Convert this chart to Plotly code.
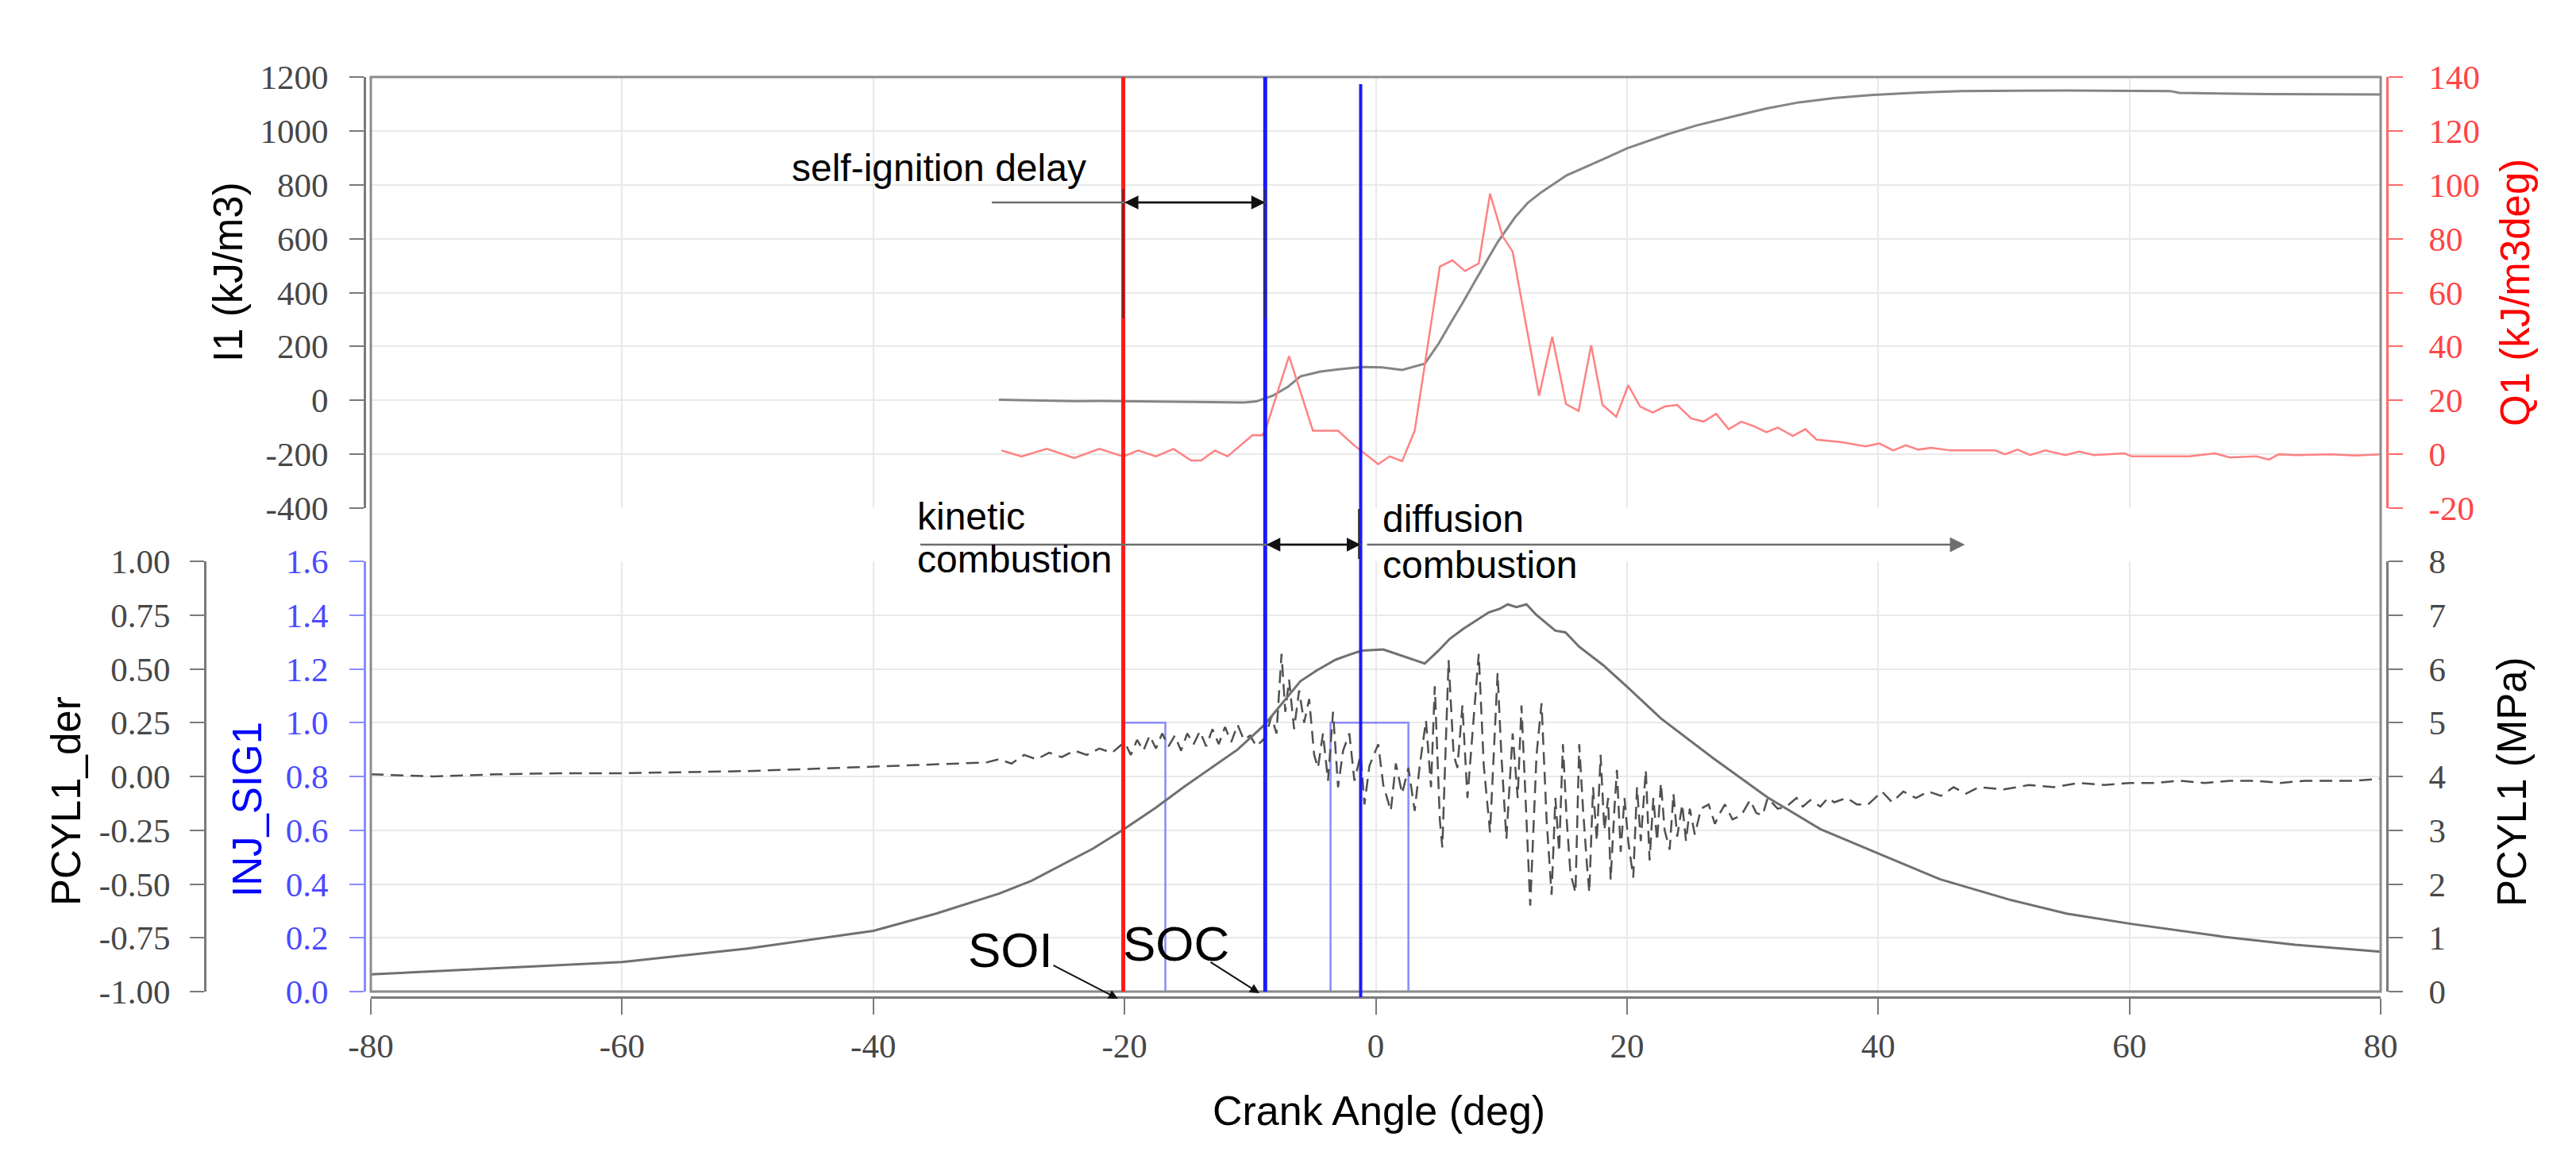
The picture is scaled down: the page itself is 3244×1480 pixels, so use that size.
import plotly.graph_objects as go

# ---------------- data ----------------
i1_deg = [-30, -28, -26, -24, -22, -20, -18, -16, -14, -12, -10.5, -9.5, -8.2, -7, -6, -5, -4.4, -3,
          -1.1, 0.5, 2.1, 3.9, 5, 6, 6.9, 8, 9, 9.7, 11.1, 12.1, 13.2, 15.2, 18.2, 20, 23.2, 25.5,
          28.5, 31, 33.7, 36.5, 39.4, 43, 46.6, 55, 63.2, 64, 70.9, 75, 80]
i1_val = [2, 0, -2, -3, -2, -3, -4, -5, -6, -9, -8, -4, 17, 50, 89, 100, 107, 115,
          124, 122, 113, 136, 210, 290, 360, 450, 530, 587, 680, 733, 773, 835, 897, 935, 987, 1020,
          1054, 1082, 1106, 1122, 1133, 1142, 1148, 1150, 1148, 1141, 1137, 1137, 1135]

q1_deg = [-29.8, -28.2, -26.2, -24.0, -22.0, -20.1, -18.9, -17.5, -16.1, -14.7, -13.9, -12.8, -11.8,
          -9.8, -9.05, -8.8, -6.9, -5.0, -3.0, -1.8, 0.2, 1.1, 2.1, 3.1, 5.1, 6.1, 7.1, 8.2, 9.1, 10.1,
          10.9, 13.0, 14.05, 15.15, 16.15, 17.15, 18.05, 19.15, 20.1, 21.05, 22.05, 23.0, 24.0, 25.1,
          26.1, 27.1, 28.1, 29.1, 30.1, 31.1, 32.0, 33.2, 34.2, 35.1, 37.0, 39.0, 40.1, 41.2, 42.2,
          43.2, 44.2, 45.8, 49.3, 50.1, 51.1, 52.1, 53.3, 54.9, 56.0, 57.2, 59.6, 60.2, 64.8, 66.8,
          68.0, 70.1, 71.1, 71.9, 73.3, 76, 78, 80]
q1_val = [1.4, -0.8, 2, -1.4, 2, -0.8, 1.4, -0.8, 2, -2.3, -2.3, 1.4, -0.8,
          7.1, 7, 8.7, 36.4, 8.7, 8.7, 3.6, -3.7, -0.8, -2.6, 8.7, 69.6, 72, 68, 70.8, 96.7, 80.9,
          75.2, 21.7, 43.6, 18.6, 16.1, 40.4, 18.3, 13.9, 25.6, 17.7, 15.5, 17.7, 18.3, 13.3,
          12.1, 15, 9.3, 12.1, 10.4, 8.2, 9.9, 6.8, 9.3, 5.4, 4.5, 2.9, 4.0, 1.4, 3.3,
          1.7, 2.4, 1.4, 1.4, 0, 1.7, -0.3, 1.4, -0.3, 1.0, -0.3, 0.3, -0.8, -0.8, 0.3,
          -1.2, -0.8, -2, 0, -0.3, 0, -0.5, 0]

pcyl_deg = [-80, -70, -60, -50, -45, -40, -35, -30, -27.4, -25, -22.5, -20.1, -17.5, -15.3, -13, -11,
            -8.9, -7.5, -6.0, -4.7, -3.2, -2.0, -1.1, 0.6, 2.1, 3.0, 3.9, 5.0, 5.9, 7, 8.0, 9.0, 9.9,
            10.5, 11.2, 12.0, 12.8, 14.3, 15.1, 16.2, 18.1, 20.0, 22.7, 26.8, 31.2, 35.4, 40.1,
            44.9, 50.6, 55, 60.1, 67.5, 73.2, 80]
pcyl_val = [0.32, 0.43, 0.55, 0.8, 0.97, 1.13, 1.45, 1.82, 2.06, 2.35, 2.66, 3.01, 3.42, 3.8, 4.17, 4.5,
            4.95, 5.35, 5.77, 5.97, 6.17, 6.27, 6.34, 6.36, 6.24, 6.17, 6.1, 6.34, 6.56, 6.75, 6.9, 7.05,
            7.12, 7.2, 7.15, 7.2, 7.0, 6.71, 6.68, 6.41, 6.07, 5.67, 5.08, 4.35, 3.61, 3.02, 2.56,
            2.09, 1.7, 1.45, 1.26, 1.02, 0.87, 0.74]

der_deg = [-80, -75, -70, -65, -60, -55, -50, -45, -40, -35, -31,
           -30, -29, -28, -27, -26, -25, -24, -23, -22, -21, -20, -19.5, -19, -18.5, -18, -17.5, -17,
           -16.5, -16, -15.5, -15, -14.5, -14, -13.5, -13, -12.5, -12, -11.5, -11, -10.5, -10, -9.5,
           -8.8, -8.3, -7.9, -7.5, -7.2, -6.9, -6.5, -6.1, -5.7, -5.3, -4.9, -4.6, -4.2, -3.8, -3.4,
           -3.0, -2.6, -2.1, -1.7, -1.2, -0.9, -0.5, 0.2, 0.6, 1.2, 1.6, 2.1, 2.6, 3.1, 3.5, 4.0, 4.4,
           4.7, 5.1, 5.3, 5.8, 6.2, 6.5, 6.9, 7.3, 7.7, 8.2, 8.6, 9.1, 9.7, 10.0, 10.4, 10.9, 11.3,
           11.6, 12.0, 12.3, 12.8, 13.2, 13.6,
           14.0, 14.3, 14.6, 14.9, 15.2, 15.5, 15.9, 16.2, 16.5, 16.8, 17.0, 17.3, 17.6, 17.9, 18.2,
           18.5, 18.7, 19.0, 19.2, 19.5, 19.8, 20.1, 20.5, 20.8, 21.1, 21.5, 21.8, 22.1, 22.4, 22.7,
           23.0, 23.4, 23.7, 24.0, 24.4, 24.7, 25.0, 25.4, 25.9, 26.5, 27.0, 27.5, 27.8, 28.4, 29.1,
           29.8, 30.3, 30.8, 31.2, 32.0, 32.7, 33.5, 34.0, 34.6, 35.4, 36.0, 36.5, 37.5, 38.3, 39.2,
           40.3, 41.1, 42.0, 43.0, 44.0, 45.0, 46.0, 47.0, 48.0, 50, 52, 54, 56, 58, 60, 62, 64, 66,
           68, 70, 72, 74, 76, 78, 80]
der_val = [0.01, 0.0, 0.01, 0.015, 0.015, 0.02, 0.025, 0.035, 0.045, 0.055, 0.065,
           0.08, 0.06, 0.1, 0.08, 0.11, 0.09, 0.12, 0.1, 0.13, 0.11, 0.16, 0.1, 0.17, 0.12, 0.19, 0.13, 0.2,
           0.14, 0.19, 0.12, 0.2, 0.15, 0.21, 0.14, 0.22, 0.15, 0.23, 0.16, 0.24, 0.17, 0.19, 0.14,
           0.18, 0.28, 0.2, 0.57, 0.3, 0.45, 0.22, 0.4, 0.25, 0.36, 0.1, 0.04, 0.2, -0.02, 0.3,
           -0.05, 0.12, 0.2, -0.02, 0.1, -0.13, 0.05, 0.15, -0.04, -0.16, 0.06, -0.08, 0.04, -0.16, 0.05,
           0.26, -0.05,
           0.42, -0.2, -0.33, 0.54, 0.1, 0.04, 0.33, -0.1, 0.2, 0.57, 0.05, -0.26, 0.48, 0.1, -0.29, 0.2, -0.1,
           0.33, -0.2, -0.6, 0.1, 0.34, -0.2,
           -0.55, -0.1, -0.35, 0.15, -0.2, -0.45, -0.54, 0.15, -0.15, -0.4, -0.54, -0.05, -0.3, 0.1, -0.25,
           -0.1, -0.48, -0.15, 0.03, -0.35, -0.1, -0.3, -0.47, -0.05, -0.3, 0.03, -0.39, -0.1, -0.3, -0.03,
           -0.25, -0.34, -0.08, -0.28, -0.13, -0.3, -0.15, -0.27, -0.15, -0.13, -0.22, -0.16, -0.13, -0.2,
           -0.18,
           -0.11, -0.17, -0.18, -0.1, -0.15, -0.14, -0.1, -0.14, -0.11, -0.14, -0.1, -0.12, -0.1, -0.13,
           -0.13,
           -0.07, -0.12, -0.07, -0.1, -0.07, -0.09, -0.05, -0.08, -0.05, -0.06, -0.04, -0.05, -0.03, -0.04,
           -0.03, -0.03, -0.02, -0.03, -0.02, -0.02, -0.03, -0.02, -0.02, -0.02, -0.01]

inj_deg = [-80, -20.1, -16.75, -3.6, 2.6, 80]
inj_val = [0, 1, 0, 1, 0, 0]

soi_deg = -20.1   # start of injection (red line)
soc_deg = -8.8    # start of combustion (blue line)
sod_deg = -1.2    # start of diffusion combustion (blue line)
diff_end_deg = 46.9

x_ticks = [-80, -60, -40, -20, 0, 20, 40, 60, 80]
x_ticklabels = ["-80", "-60", "-40", "-20", "0", "20", "40", "60", "80"]
i1_ticks = [-400, -200, 0, 200, 400, 600, 800, 1000, 1200]
i1_ticklabels = ["-400", "-200", "0", "200", "400", "600", "800", "1000", "1200"]
q1_ticks = [-20, 0, 20, 40, 60, 80, 100, 120, 140]
q1_ticklabels = ["-20", "0", "20", "40", "60", "80", "100", "120", "140"]
inj_ticks = [0, 0.2, 0.4, 0.6, 0.8, 1.0, 1.2, 1.4, 1.6]
inj_ticklabels = ["0.0", "0.2", "0.4", "0.6", "0.8", "1.0", "1.2", "1.4", "1.6"]
der_ticks = [-1, -0.75, -0.5, -0.25, 0, 0.25, 0.5, 0.75, 1]
der_ticklabels = ["-1.00", "-0.75", "-0.50", "-0.25", "0.00", "0.25", "0.50", "0.75", "1.00"]
pcyl_ticks = [0, 1, 2, 3, 4, 5, 6, 7, 8]
pcyl_ticklabels = ["0", "1", "2", "3", "4", "5", "6", "7", "8"]

# ---------------- layout helpers (pixel geometry) ----------------
W, H = 3244, 1480
PX_L, PX_R, PX_T, PX_B = 250, 2998, 89, 1248


def fx(px):
    return (px - PX_L) / (PX_R - PX_L)


def fy(py):
    return (PX_B - py) / (PX_B - PX_T)


X_DOM = [fx(459), fx(2990)]
TOP_DOM = [fy(632), 1.0]
BOT_DOM = [fy(1241), fy(699)]
LEFT_POS = fx(451)
PX_PER_DEG = (2990 - 459) / 160.0


def deg(px):
    return -80 + (px - 459) / PX_PER_DEG


GRID = "#e9e9e9"
AX = "#7a7a7a"
SERIF = "Liberation Serif, Times New Roman, serif"
TICKFONT = dict(family=SERIF, size=43, color="#474747")
SANS = "Liberation Sans, Arial, sans-serif"

fig = go.Figure()

fig.add_trace(go.Scatter(x=i1_deg, y=i1_val, mode="lines", line=dict(color="#858585", width=3),
                         xaxis="x", yaxis="y", showlegend=False))
fig.add_trace(go.Scatter(x=q1_deg, y=q1_val, mode="lines", line=dict(color="#ff8282", width=2.5),
                         xaxis="x", yaxis="y2", showlegend=False))
fig.add_trace(go.Scatter(x=inj_deg, y=inj_val, mode="lines", line=dict(color="#8a8aff", width=2.5, shape="hv"),
                         xaxis="x", yaxis="y3", showlegend=False))
fig.add_trace(go.Scatter(x=der_deg, y=der_val, mode="lines",
                         line=dict(color="#505050", width=2.5, dash="16px,9px"),
                         xaxis="x", yaxis="y4", showlegend=False))
fig.add_trace(go.Scatter(x=pcyl_deg, y=pcyl_val, mode="lines", line=dict(color="#707070", width=3),
                         xaxis="x", yaxis="y5", showlegend=False))

common_y = dict(showline=True, linewidth=3, ticks="outside", ticklen=18, tickwidth=2,
                zeroline=False, tickmode="array")

fig.update_layout(
    width=W, height=H,
    margin=dict(l=PX_L, r=W - PX_R, t=PX_T, b=H - PX_B),
    paper_bgcolor="white", plot_bgcolor="white",
    xaxis=dict(domain=X_DOM, range=[-80, 80], anchor="free", position=0,
               tickmode="array", tickvals=x_ticks, ticktext=x_ticklabels,
               showline=True, linecolor=AX, linewidth=3, ticks="outside", ticklen=20, tickwidth=2,
               tickcolor=AX, showgrid=True, gridcolor=GRID, gridwidth=2, zeroline=False,
               tickfont=TICKFONT, ticklabelstandoff=2),
    yaxis=dict(domain=TOP_DOM, range=[-400, 1200], anchor="free", position=LEFT_POS, side="left",
               tickvals=i1_ticks, ticktext=i1_ticklabels, linecolor=AX, tickcolor=AX,
               showgrid=True, gridcolor=GRID, gridwidth=2, tickfont=TICKFONT,
               ticklabelstandoff=18, **common_y),
    yaxis2=dict(domain=TOP_DOM, range=[-20, 140], anchor="free", position=1.0, side="right",
                overlaying="y", tickvals=q1_ticks, ticktext=q1_ticklabels,
                linecolor="#ff6a6a", tickcolor="#ff6a6a", showgrid=False,
                tickfont=dict(family=SERIF, size=43, color="#ff4545"),
                ticklabelstandoff=24, **common_y),
    yaxis3=dict(domain=BOT_DOM, range=[0, 1.6], anchor="free", position=LEFT_POS, side="left",
                tickvals=inj_ticks, ticktext=inj_ticklabels, linecolor="#8a8aff", tickcolor="#8a8aff",
                showgrid=True, gridcolor=GRID, gridwidth=2,
                tickfont=dict(family=SERIF, size=43, color="#4a4aff"),
                ticklabelstandoff=18, **common_y),
    yaxis4=dict(domain=BOT_DOM, range=[-1, 1], anchor="free", position=0, side="left",
                overlaying="y3", tickvals=der_ticks, ticktext=der_ticklabels,
                linecolor=AX, tickcolor=AX, showgrid=False, tickfont=TICKFONT,
                ticklabelstandoff=16, **common_y),
    yaxis5=dict(domain=BOT_DOM, range=[0, 8], anchor="free", position=1.0, side="right",
                overlaying="y3", tickvals=pcyl_ticks, ticktext=pcyl_ticklabels,
                linecolor=AX, tickcolor=AX, showgrid=False, tickfont=TICKFONT,
                ticklabelstandoff=24, **common_y),
)

shapes = []
# plot frame
shapes.append(dict(type="rect", xref="paper", yref="paper", x0=X_DOM[0], x1=X_DOM[1],
                   y0=BOT_DOM[0], y1=1.0, line=dict(color="#8c8c8c", width=3), layer="above"))
# event lines
shapes.append(dict(type="line", xref="x", yref="paper", x0=soi_deg, x1=soi_deg, y0=BOT_DOM[0], y1=1.0,
                   line=dict(color="#ff1a1a", width=5), layer="above"))
shapes.append(dict(type="line", xref="x", yref="paper", x0=soc_deg, x1=soc_deg, y0=BOT_DOM[0], y1=1.0,
                   line=dict(color="#1a1aff", width=5), layer="above"))
shapes.append(dict(type="line", xref="x", yref="paper", x0=sod_deg, x1=sod_deg, y0=0.0, y1=fy(98),
                   line=dict(color="#1a1aff", width=4), layer="above"))
# dark bracket ticks on event lines
for d in (soi_deg, soc_deg):
    shapes.append(dict(type="line", xref="x", yref="paper", x0=d, x1=d, y0=fy(393), y1=fy(230),
                       line=dict(color="#333333", width=2), layer="above"))
shapes.append(dict(type="line", xref="x", yref="paper", x0=sod_deg - 0.15, x1=sod_deg - 0.15,
                   y0=fy(696), y1=fy(633), line=dict(color="#333333", width=2), layer="above"))
# dimension lines
y_delay = fy(247)
shapes.append(dict(type="line", xref="x", yref="paper", x0=deg(1241), x1=soc_deg, y0=y_delay, y1=y_delay,
                   line=dict(color="#6e6e6e", width=2.5), layer="above"))
y_kin = fy(678)
shapes.append(dict(type="line", xref="x", yref="paper", x0=deg(1151), x1=sod_deg, y0=y_kin, y1=y_kin,
                   line=dict(color="#6e6e6e", width=2.5), layer="above"))
fig.update_layout(shapes=shapes)

ann = []


def arrow(x_head, y_head, ax_px, ay_px, side="end", width=2.5, color="#111111", size=1.4, head=2):
    return dict(x=x_head, y=y_head, xref="x", yref="paper", ax=ax_px, ay=ay_px,
                axref="pixel", ayref="pixel", showarrow=True, arrowhead=head, startarrowhead=head,
                arrowside=side, arrowwidth=width, arrowcolor=color, arrowsize=size,
                startarrowsize=size, text="")


ann.append(arrow(soc_deg, y_delay, -(soc_deg - soi_deg) * PX_PER_DEG, 0, side="end+start"))
ann.append(arrow(sod_deg, y_kin, -(sod_deg - soc_deg) * PX_PER_DEG, 0, side="end+start"))
ann.append(arrow(diff_end_deg, y_kin, -(diff_end_deg - deg(1712)) * PX_PER_DEG, 0,
                 color="#6e6e6e", width=2.5, size=1.5))
ann.append(arrow(deg(1400), fy(1250), 1317 - 1400, 1207 - 1250, width=2, size=1.2))
ann.append(arrow(deg(1578), fy(1243), 1515 - 1578, 1203 - 1243, width=2, size=1.2))


def text(t, x, y, size=48, color="black", xanchor="left", angle=0, xref="x"):
    return dict(text=t, x=x, y=y, xref=xref, yref="paper", showarrow=False, xanchor=xanchor,
                yanchor="middle", textangle=angle, font=dict(family=SANS, size=size, color=color))


ann.append(text("self-ignition delay", deg(987), fy(203)))
ann.append(text("kinetic", deg(1145), fy(642)))
ann.append(text("combustion", deg(1145), fy(696)))
ann.append(text("diffusion", deg(1731), fy(645)))
ann.append(text("combustion", deg(1731), fy(703)))
ann.append(text("SOI", deg(1264), fy(1188), size=62, xanchor="center"))
ann.append(text("SOC", deg(1473), fy(1180), size=62, xanchor="center"))

# axis titles
ann.append(text("I1 (kJ/m3)", fx(279), fy(335), size=51, xanchor="center", angle=-90, xref="paper"))
ann.append(text("PCYL1_der", fx(75), fy(1001), size=51, xanchor="center", angle=-90, xref="paper"))
ann.append(text("INJ_SIG1", fx(303), fy(1012), size=51, color="#0000ff", xanchor="center", angle=-90,
                xref="paper"))
ann.append(text("Q1 (kJ/m3deg)", fx(3160), fy(361), size=51, color="#ff0000", xanchor="center", angle=-90,
                xref="paper"))
ann.append(text("PCYL1 (MPa)", fx(3155), fy(977), size=51, xanchor="center", angle=-90, xref="paper"))
ann.append(text("Crank Angle (deg)", fx(1728), fy(1391), size=52, xanchor="center", xref="paper"))

fig.update_layout(annotations=ann)

fig.write_html("out.html")
